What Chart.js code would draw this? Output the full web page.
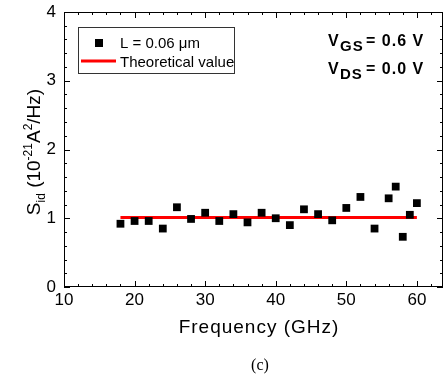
<!DOCTYPE html>
<html>
<head>
<meta charset="utf-8">
<script src="https://cdn.jsdelivr.net/npm/chart.js@4.4.0/dist/chart.umd.min.js"></script>
<style>
    body { margin: 0; background: #fff; }
    canvas { display: block; }
</style>
</head>
<body>
<canvas id="myChart" width="443" height="379"></canvas>
<script>
// measured noise, L = 0.06 um
var freqs = [18, 20, 22, 24, 26, 28, 30, 32, 34, 36, 38, 40, 42, 44, 46, 48, 50, 52, 54, 56, 57, 58, 59, 60];
var sid = [0.92, 0.96, 0.96, 0.85, 1.16, 0.99, 1.08, 0.96, 1.06, 0.94, 1.08, 1.00, 0.90, 1.13, 1.06, 0.97, 1.15, 1.31, 0.85, 1.29, 1.46, 0.73, 1.05, 1.22];
// theoretical line
var theoFreqs = [18, 60];
var theoValues = [1.01, 1.01];

var xTicks = [10, 20, 30, 40, 50, 60];
var yTicks = [0, 1, 2, 3, 4];

var font = "'Liberation Sans', Arial, sans-serif";

var extras = {
    id: 'extras',
    afterDraw: function (chart) {
        var ctx = chart.ctx;
        var a = chart.chartArea;
        var xs = chart.scales.x;
        var ys = chart.scales.y;
        ctx.save();
        ctx.fillStyle = '#000';
        ctx.strokeStyle = '#000';
        ctx.lineWidth = 1;
        ctx.strokeRect(a.left + 0.5, a.top + 0.5, a.right - a.left - 1, a.bottom - a.top - 1);

        // inward ticks on all four sides
        ctx.beginPath();
        for (var v = 10; v <= 63; v += 2) {
            var px = Math.round(xs.getPixelForValue(v)) + 0.5;
            var len = (v % 10 === 0) ? 6 : 3;
            ctx.moveTo(px, a.bottom); ctx.lineTo(px, a.bottom - len);
            ctx.moveTo(px, a.top); ctx.lineTo(px, a.top + len);
        }
        for (var i = 0; i <= 20; i++) {
            var py = Math.round(ys.getPixelForValue(i * 0.2)) + 0.5;
            var l2 = (i % 5 === 0) ? 6 : 3;
            ctx.moveTo(a.left, py); ctx.lineTo(a.left + l2, py);
            ctx.moveTo(a.right, py); ctx.lineTo(a.right - l2, py);
        }
        ctx.stroke();

        // x title
        ctx.font = '19px ' + font;
        ctx.letterSpacing = '1px';
        ctx.textAlign = 'center';
        ctx.textBaseline = 'alphabetic';
        ctx.fillText('Frequency (GHz)', 259, 333);
        ctx.letterSpacing = '0px';
        ctx.font = "16px 'Liberation Serif', 'Times New Roman', serif";
        ctx.fillText('(c)', 260, 370);

        // y title, rotated, with sub/superscripts
        ctx.save();
        ctx.translate(40, 152);
        ctx.rotate(-Math.PI / 2);
        ctx.textAlign = 'left';
        var parts = [
            ['S', 19, 0], ['id', 12, 5], [' (10', 19, 0], ['-21', 12, -8],
            ['A', 19, 0], ['2', 12, -8], ['/Hz)', 19, 0]
        ];
        var total = 0;
        parts.forEach(function (p) { ctx.font = p[1] + 'px ' + font; total += ctx.measureText(p[0]).width; });
        var cx = -total / 2;
        parts.forEach(function (p) {
            ctx.font = p[1] + 'px ' + font;
            ctx.fillText(p[0], cx, p[2]);
            cx += ctx.measureText(p[0]).width;
        });
        ctx.restore();

        // legend box
        ctx.strokeStyle = '#333';
        ctx.strokeRect(78.5, 27.5, 156, 46);
        ctx.fillRect(95, 39, 8, 8);
        ctx.strokeStyle = '#ff0000';
        ctx.lineWidth = 3;
        ctx.beginPath();
        ctx.moveTo(81, 61); ctx.lineTo(116, 61);
        ctx.stroke();
        ctx.font = '15px ' + font;
        ctx.textAlign = 'left';
        ctx.fillText('L = 0.06 \u03bcm', 120, 48);
        ctx.fillText('Theoretical value', 120, 67);

        // bias labels
        function bias(sub, val, y) {
            ctx.letterSpacing = '1px';
            ctx.font = 'bold 16px ' + font;
            ctx.fillText('V', 328, y);
            ctx.font = 'bold 15px ' + font;
            ctx.fillText(sub, 340, y + 5);
            ctx.font = 'bold 16px ' + font;
            ctx.fillText('= ' + val + ' V', 366, y);
            ctx.letterSpacing = '0px';
        }
        bias('GS', '0.6', 46);
        bias('DS', '0.0', 74);
        ctx.restore();
    }
};

var measured = freqs.map(function (f, i) { return { x: f, y: sid[i] }; });
var theory = theoFreqs.map(function (f, i) { return { x: f, y: theoValues[i] }; });

var ctx = document.getElementById('myChart').getContext('2d');
var myChart = new Chart(ctx, {
    type: 'scatter',
    data: {
        datasets: [{
            label: 'Theoretical value',
            data: theory,
            showLine: true,
            borderColor: '#ff0000',
            borderWidth: 3,
            pointRadius: 0,
            order: 2
        }, {
            label: 'L = 0.06 um',
            data: measured,
            pointStyle: 'rect',
            pointRadius: 5.5,
            backgroundColor: '#000',
            borderColor: '#000',
            borderWidth: 0,
            order: 1
        }]
    },
    options: {
        responsive: false,
        animation: false,
        devicePixelRatio: 1,
        layout: { autoPadding: false, padding: { top: 12, right: 0, left: 0, bottom: 0 } },
        plugins: { legend: { display: false }, tooltip: { enabled: false } },
        scales: {
            x: {
                type: 'linear',
                min: 10,
                max: 63.7,
                afterFit: function (s) { s.height = 92; s.paddingLeft = 0; s.paddingRight = 0; },
                afterBuildTicks: function (s) { s.ticks = xTicks.map(function (v) { return { value: v }; }); },
                ticks: { color: '#000', font: { size: 17, family: font }, padding: 3, maxRotation: 0 },
                grid: { display: false, drawTicks: false },
                border: { display: false }
            },
            y: {
                min: 0,
                max: 4,
                afterFit: function (s) { s.width = 64; s.paddingTop = 0; s.paddingBottom = 0; },
                afterBuildTicks: function (s) { s.ticks = yTicks.map(function (v) { return { value: v }; }); },
                ticks: { color: '#000', font: { size: 17, family: font }, padding: 8 },
                grid: { display: false, drawTicks: false },
                border: { display: false }
            }
        }
    },
    plugins: [extras]
});
</script>
</body>
</html>
